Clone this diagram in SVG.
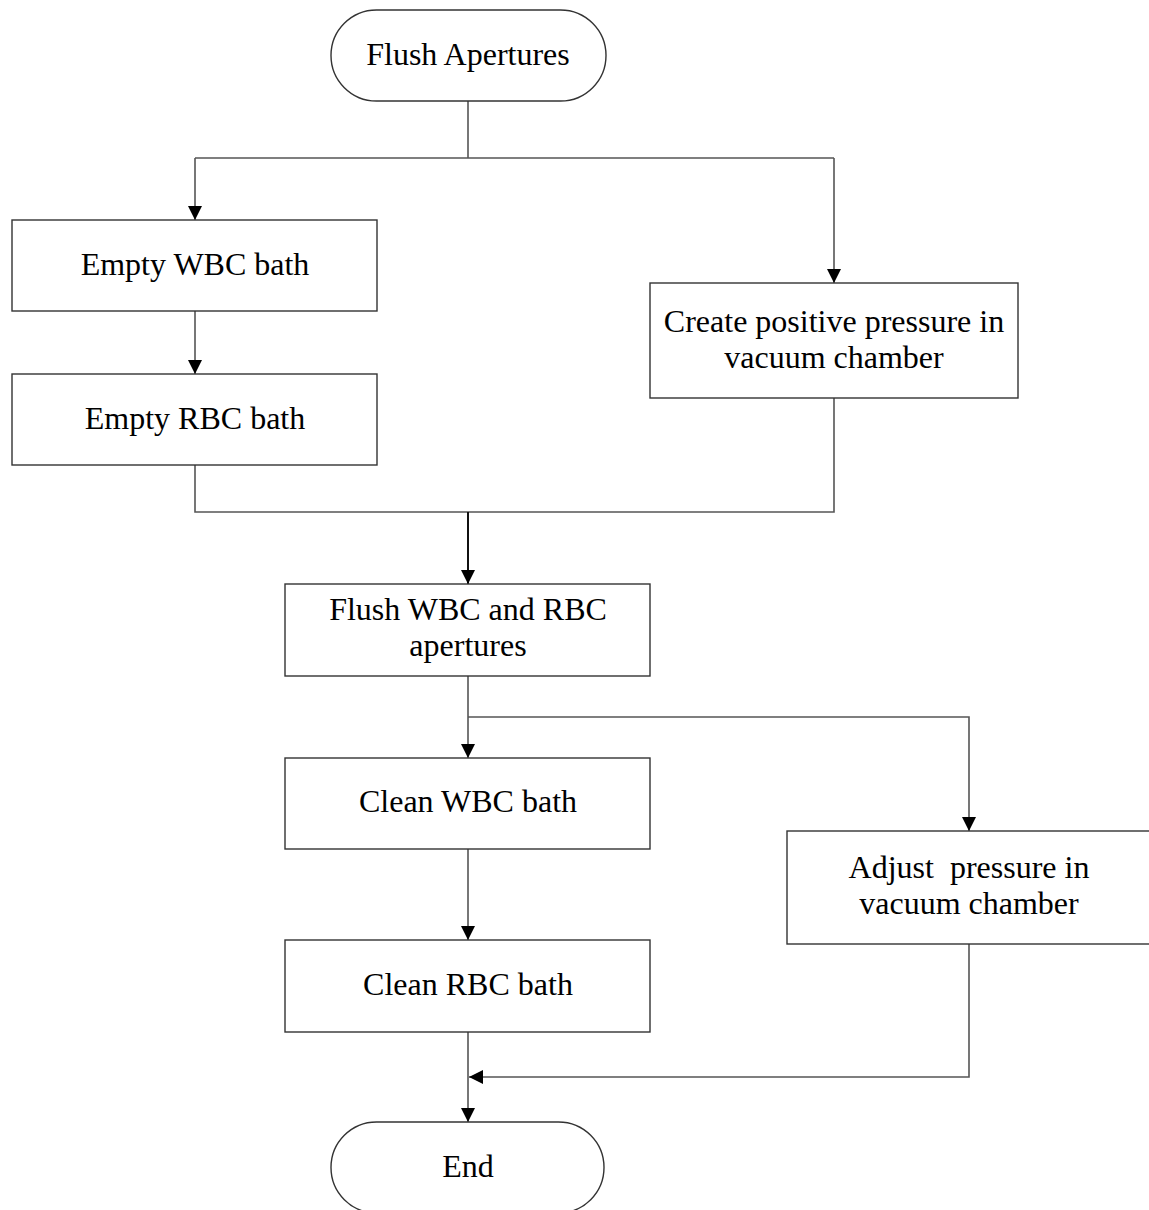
<svg xmlns="http://www.w3.org/2000/svg" width="1149" height="1210" viewBox="0 0 1149 1210">
<defs>
<marker id="ah" markerUnits="userSpaceOnUse" markerWidth="14" markerHeight="16" viewBox="0 0 14 16" refX="14" refY="8" orient="auto">
<path d="M0,1 L14,8 L0,15 Z" fill="#000"/>
</marker>
</defs>
<style>
.box{fill:#fff;stroke:#333;stroke-width:1.4}
.ln{fill:none;stroke:#555;stroke-width:1.6}
.lk{fill:none;stroke:#111;stroke-width:2}
.t{font-family:"Liberation Serif","Times New Roman",serif;font-size:32px;fill:#000;text-anchor:middle;white-space:pre}
</style>
<rect width="1149" height="1210" fill="#fff"/>
<g id="connectors">
<path class="ln" d="M468,101 V158"/>
<path class="ln" d="M195,158 H834"/>
<path class="ln" d="M195,158 V220" marker-end="url(#ah)"/>
<path class="ln" d="M834,158 V283" marker-end="url(#ah)"/>
<path class="ln" d="M195,311 V374" marker-end="url(#ah)"/>
<path class="ln" d="M195,465 V512 H834 V398"/>
<path class="lk" d="M468,512 V584" marker-end="url(#ah)"/>
<path class="ln" d="M468,676 V758" marker-end="url(#ah)"/>
<path class="ln" d="M468,717 H969 V831" marker-end="url(#ah)"/>
<path class="ln" d="M468,849 V940" marker-end="url(#ah)"/>
<path class="ln" d="M468,1032 V1122" marker-end="url(#ah)"/>
<path class="ln" d="M969,944 V1077 H469" marker-end="url(#ah)"/>
</g>
<g id="start">
<rect class="box" x="331" y="10" width="275" height="91" rx="45.5" ry="45.5"/>
<text class="t" x="468" y="65">Flush Apertures</text>
</g>
<g id="emptyWBC">
<rect class="box" x="12" y="220" width="365" height="91"/>
<text class="t" x="195" y="275">Empty WBC bath</text>
</g>
<g id="emptyRBC">
<rect class="box" x="12" y="374" width="365" height="91"/>
<text class="t" x="195" y="429">Empty RBC bath</text>
</g>
<g id="positivePressure">
<rect class="box" x="650" y="283" width="368" height="115"/>
<text class="t" x="834" y="332">Create positive pressure in</text>
<text class="t" x="834" y="368">vacuum chamber</text>
</g>
<g id="flushApertures">
<rect class="box" x="285" y="584" width="365" height="92"/>
<text class="t" x="468" y="620">Flush WBC and RBC</text>
<text class="t" x="468" y="656">apertures</text>
</g>
<g id="cleanWBC">
<rect class="box" x="285" y="758" width="365" height="91"/>
<text class="t" x="468" y="812">Clean WBC bath</text>
</g>
<g id="adjustPressure">
<rect class="box" x="787" y="831" width="364" height="113"/>
<text class="t" x="969" y="878">Adjust  pressure in</text>
<text class="t" x="969" y="914">vacuum chamber</text>
</g>
<g id="cleanRBC">
<rect class="box" x="285" y="940" width="365" height="92"/>
<text class="t" x="468" y="995">Clean RBC bath</text>
</g>
<g id="end">
<rect class="box" x="331" y="1122" width="273" height="91" rx="45.5" ry="45.5"/>
<text class="t" x="468" y="1177">End</text>
</g>
</svg>
